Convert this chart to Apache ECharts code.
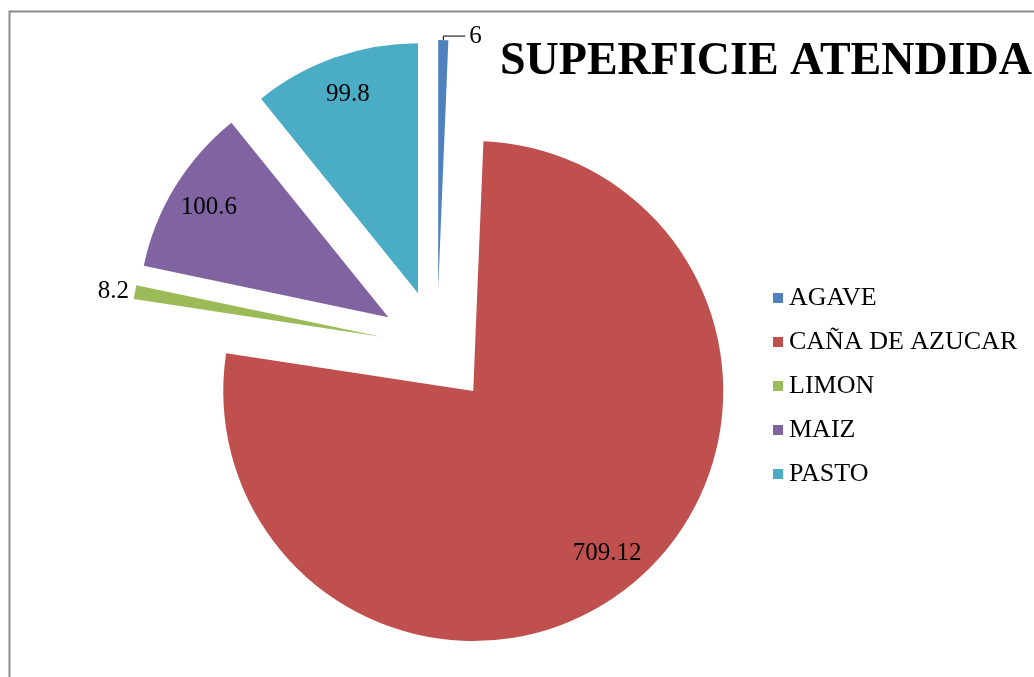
<!DOCTYPE html>
<html>
<head>
<meta charset="utf-8">
<script src="https://cdn.jsdelivr.net/npm/echarts@6/dist/echarts.min.js"></script>
<style>
html,body{margin:0;padding:0;background:#fff;}
#chart{width:1034px;height:677px;}
</style>
</head>
<body>
<div id="chart"></div>
<script>
const categories = ['AGAVE', 'CAÑA DE AZUCAR', 'LIMON', 'MAIZ', 'PASTO'];
const values = [6, 709.12, 8.2, 100.6, 99.8];
const colors = ['#4F81BD', '#C0504D', '#9BBB59', '#8064A2', '#4BACC6'];
const titleText = 'SUPERFICIE ATENDIDA';
const outsideLabelNames = ['AGAVE', 'LIMON'];

const FONT = '"Liberation Serif", "Times New Roman", serif';
const CENTER = [437, 347];
const R = 250;
const OFFSET = 57;

const chart = echarts.init(document.getElementById('chart'), null, {renderer: 'canvas'});

const mainData = categories.map((name, i) => {
  const item = {name: name, value: values[i], selected: true, itemStyle: {color: colors[i]}};
  if (name === 'AGAVE') {
    item.label = {show: true, position: 'outside'};
    item.labelLine = {show: true, length: 4, length2: 22, smooth: false, lineStyle: {color: '#000', width: 1}};
  } else if (name === 'LIMON') {
    item.label = {show: true, position: 'outside'};
    item.labelLine = {show: false, length: 2, length2: 0};
  } else {
    item.label = {show: false};
    item.labelLine = {show: false};
  }
  return item;
});

const labelData = categories.map((name, i) => ({
  name: name,
  value: values[i],
  selected: true,
  label: {show: outsideLabelNames.indexOf(name) < 0}
}));

chart.setOption({
  animation: false,
  backgroundColor: '#ffffff',
  title: {
    text: titleText,
    left: 495,
    top: 34,
    textStyle: {fontFamily: FONT, fontSize: 46, fontWeight: 'bold', color: '#000'}
  },
  legend: {
    orient: 'vertical',
    left: 768,
    top: 280,
    itemWidth: 10,
    itemHeight: 10,
    itemGap: 18,
    icon: 'rect',
    selectedMode: false,
    data: categories,
    textStyle: {fontFamily: FONT, fontSize: 26, color: '#000', padding: [0, 0, 0, 1]}
  },
  graphic: [{
    type: 'rect',
    silent: true,
    shape: {x: 9.5, y: 11.5, width: 1200, height: 900},
    style: {fill: 'none', stroke: '#8c8c8c', lineWidth: 2},
    z: -10
  }],
  series: [
    {
      type: 'pie',
      name: 'main',
      center: CENTER,
      radius: [0, R],
      startAngle: 90,
      clockwise: true,
      selectedMode: 'multiple',
      selectedOffset: OFFSET,
      avoidLabelOverlap: false,
      emphasis: {disabled: true},
      label: {fontFamily: FONT, fontSize: 25, color: '#000', formatter: '{c}', distanceToLabelLine: 4},
      data: mainData,
      z: 2
    },
    {
      type: 'pie',
      name: 'labels',
      center: CENTER,
      radius: [165, R],
      startAngle: 90,
      clockwise: true,
      selectedMode: 'multiple',
      selectedOffset: OFFSET,
      silent: true,
      avoidLabelOverlap: false,
      emphasis: {disabled: true},
      itemStyle: {color: 'rgba(0,0,0,0)'},
      labelLine: {show: false},
      label: {position: 'inside', fontFamily: FONT, fontSize: 25, color: '#000', formatter: '{c}'},
      data: labelData,
      z: 3
    }
  ]
});
</script>
</body>
</html>
